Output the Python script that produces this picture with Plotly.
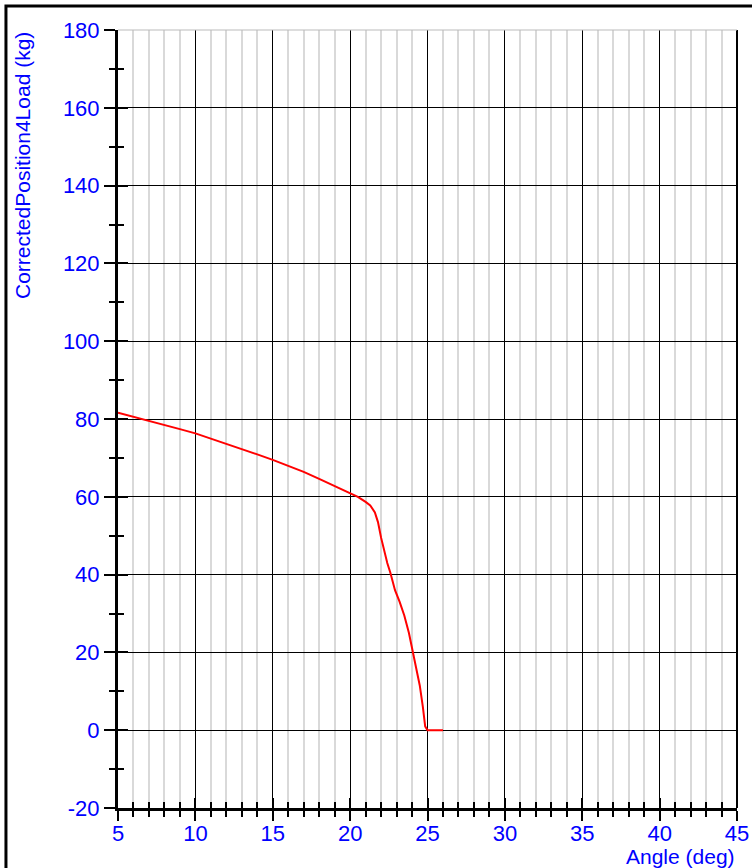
import plotly.graph_objects as go

# ---- data ----
angle_deg = [5.0, 6.0, 7.0, 8.0, 9.0, 10.0, 11.0, 12.0, 13.0, 14.0, 15.0, 16.0,
             17.0, 18.0, 19.0, 20.0, 20.5, 21.0, 21.3, 21.6, 21.8, 22.0, 22.2,
             22.4, 22.6, 22.9, 23.2, 23.5, 23.8, 24.1, 24.3, 24.5, 24.7, 24.85,
             25.0, 25.5, 26.0]
load_kg = [81.6, 80.6, 79.6, 78.5, 77.4, 76.3, 75.0, 73.6, 72.2, 70.9, 69.5, 68.0,
           66.4, 64.6, 62.8, 60.9, 60.0, 58.7, 57.8, 56.0, 53.5, 49.5, 46.0,
           43.0, 40.5, 36.0, 33.0, 29.5, 25.0, 19.5, 15.5, 11.5, 6.0, 1.0,
           0.0, 0.0, 0.0]

x_title = "Angle (deg)"
y_title = "CorrectedPosition4Load (kg)"
x_range = [5, 45]
y_range = [-20, 180]
y_tick_values = [-20, 0, 20, 40, 60, 80, 100, 120, 140, 160, 180]
y_tick_labels = ["-20", "0", "20", "40", "60", "80", "100", "120", "140", "160", "180"]

BLUE = "#0000FF"
FONT = "Liberation Sans, Arial, sans-serif"
TICK_SIZE = 22
TITLE_SIZE = 21

fig = go.Figure()
fig.add_trace(go.Scatter(x=angle_deg, y=load_kg, mode="lines",
                         line=dict(color="#FF0000", width=2), showlegend=False,
                         hoverinfo="skip"))
# invisible trace on overlay axes so they render
fig.add_trace(go.Scatter(x=[x_range[0]], y=[y_range[0]], xaxis="x2", yaxis="y2",
                         mode="markers", marker=dict(opacity=0), showlegend=False,
                         hoverinfo="skip"))

fig.update_layout(
    width=752, height=868,
    margin=dict(l=118, r=15, t=30, b=60, autoexpand=False),
    paper_bgcolor="white", plot_bgcolor="white",
    font=dict(family=FONT, size=TICK_SIZE, color=BLUE),
    xaxis=dict(range=x_range, dtick=5, tick0=5, showgrid=True, gridcolor="black",
               gridwidth=1, zeroline=False, showline=True, linecolor="black",
               linewidth=3, ticks="outside", ticklen=10, tickwidth=2,
               tickcolor="black", tickfont=dict(size=TICK_SIZE, color=BLUE),
               ticklabelstandoff=-6, automargin=False,
               minor=dict(dtick=1, tick0=5, showgrid=True, gridcolor="#d9d9d9",
                          gridwidth=2, ticks="outside", ticklen=6, tickwidth=2,
                          tickcolor="black")),
    yaxis=dict(range=y_range, tickmode="array", tickvals=y_tick_values,
               ticktext=y_tick_labels, showgrid=True, gridcolor="black",
               gridwidth=1, zeroline=False, showline=True, linecolor="black",
               linewidth=3, ticks="outside", ticklen=11, tickwidth=2,
               tickcolor="black", tickfont=dict(size=TICK_SIZE, color=BLUE),
               automargin=False,
               minor=dict(dtick=10, tick0=-20, showgrid=False, ticks="outside",
                          ticklen=6, tickwidth=2, tickcolor="black")),
    xaxis2=dict(range=x_range, overlaying="x", anchor="y", dtick=5, tick0=5,
                showgrid=False, zeroline=False, showline=False, showticklabels=False,
                ticks="inside", ticklen=10, tickwidth=2, tickcolor="black",
                automargin=False,
                minor=dict(dtick=1, tick0=5, showgrid=False, ticks="inside",
                           ticklen=6, tickwidth=2, tickcolor="black")),
    yaxis2=dict(range=y_range, overlaying="y", anchor="x", side="left", dtick=20,
                tick0=-20, showgrid=False, zeroline=False, showline=False,
                showticklabels=False, ticks="inside", ticklen=10, tickwidth=2,
                tickcolor="black", automargin=False,
                minor=dict(dtick=10, tick0=-20, showgrid=False, ticks="inside",
                           ticklen=6, tickwidth=2, tickcolor="black")),
    shapes=[
        # outer frame
        dict(type="rect", xref="paper", yref="paper", x0=-0.181, x1=1.2,
             y0=-0.2, y1=1.031, line=dict(color="black", width=3),
             fillcolor="rgba(0,0,0,0)", layer="above"),
        # right border of plot
        dict(type="line", xref="paper", yref="paper", x0=1, x1=1, y0=0, y1=1,
             line=dict(color="black", width=2), layer="above"),
        # top border of plot
        dict(type="line", xref="paper", yref="paper", x0=0, x1=1, y0=1, y1=1,
             line=dict(color="#bbbbbb", width=1), layer="above"),
    ],
    annotations=[
        dict(text=y_title, xref="paper", yref="paper", x=-0.1543, y=1.0,
             xanchor="center", yanchor="top", textangle=-90, showarrow=False,
             font=dict(size=TITLE_SIZE, color=BLUE, family=FONT)),
        dict(text=x_title, xref="paper", yref="paper", x=1.0, y=-0.0617,
             xanchor="right", yanchor="middle", showarrow=False,
             font=dict(size=TITLE_SIZE, color=BLUE, family=FONT)),
    ],
)

fig.write_html(
    "out.html",
    config={"displayModeBar": False},
    post_script="document.body.style.margin='0';document.body.style.overflow='hidden';",
)
